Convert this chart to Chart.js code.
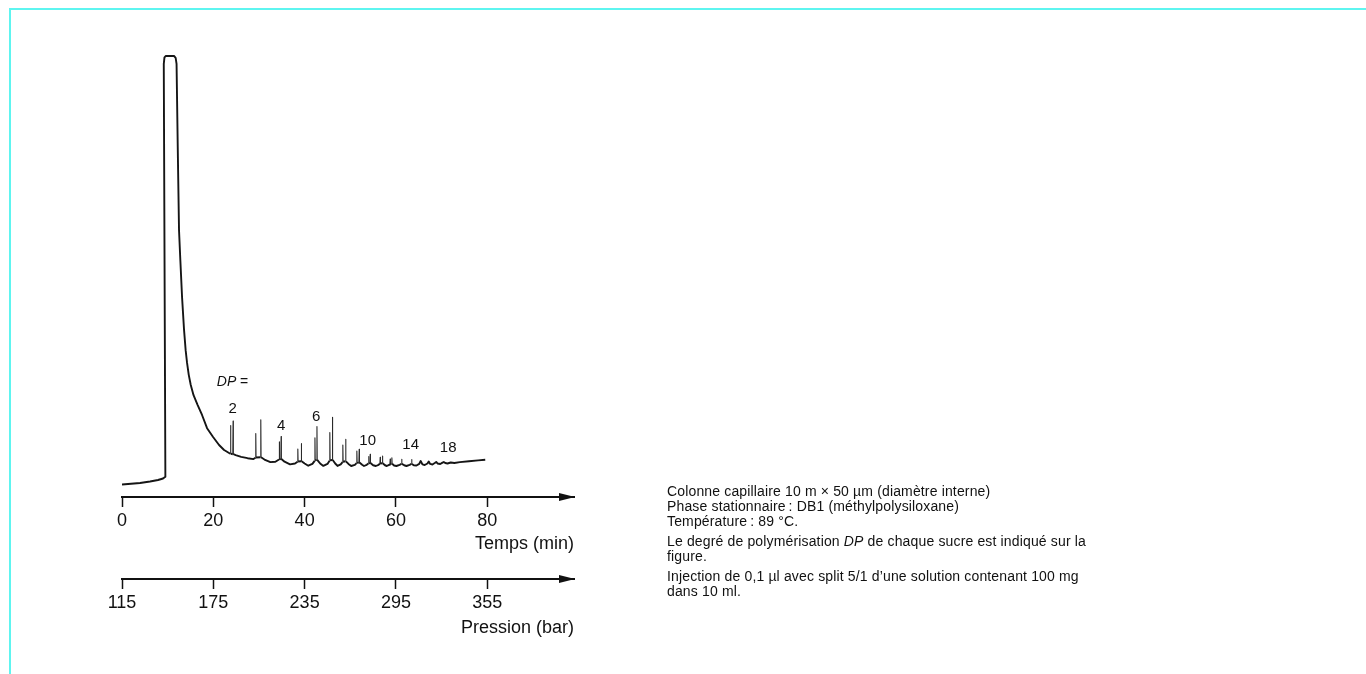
<!DOCTYPE html>
<html lang="fr">
<head>
<meta charset="utf-8">
<title>Chromatogramme</title>
<script src="https://cdn.jsdelivr.net/npm/chart.js@4.4.1/dist/chart.umd.min.js"></script>
<style>
  html, body { margin: 0; padding: 0; background: #fff; overflow: hidden; }
  #wrap { position: relative; width: 1366px; height: 674px; }
  #c { position: absolute; left: 0; top: 0; display: block; }
  #frame { position: absolute; left: 9px; top: 8px; width: 1357px; height: 666px;
           border-top: 2px solid #5ef5f0; border-left: 2px solid #5ef5f0; box-sizing: border-box; }
  .cap { position: absolute; left: 667px; font-family: "Liberation Sans", Arial, sans-serif;
         font-size: 14px; line-height: 15px; color: #111; white-space: nowrap; letter-spacing: 0.15px; }
  .cap i { font-style: italic; }
</style>
</head>
<body>
<div id="wrap">
  <canvas id="c" width="1366" height="674"></canvas>
  <div id="frame"></div>
  <div class="cap" style="top:484px">Colonne capillaire 10 m × 50 µm (diamètre interne)</div>
  <div class="cap" style="top:499px">Phase stationnaire&#8201;: DB1 (méthylpolysiloxane)</div>
  <div class="cap" style="top:514px">Température&#8201;: 89 °C.</div>
  <div class="cap" style="top:534px">Le degré de polymérisation <i>DP</i> de chaque sucre est indiqué sur la</div>
  <div class="cap" style="top:549px">figure.</div>
  <div class="cap" style="top:569px">Injection de 0,1 µl avec split 5/1 d’une solution contenant 100 mg</div>
  <div class="cap" style="top:584px">dans 10 ml.</div>
</div>
<script>
// ---- Data ----
const timeMin = [
  0, 3.95, 6.14, 7.89, 8.99, 9.5,
  9.15, 9.3, 9.6, 11.4, 11.75, 11.95, 12.2, 12.49, 12.78, 13.15, 13.59, 13.94, 14.25, 14.62, 15.06, 15.67,
  16.55, 17.53, 18.63, 19.95, 21.26, 22.36, 23.45,
  23.72, 23.78, 23.84, 24.27, 24.33, 24.39,
  24.9, 26.1, 27.5, 28.8,
  29.24, 29.30, 29.36, 30.34, 30.40, 30.46,
  31.2, 32.5, 33.6,
  34.39, 34.45, 34.51, 34.79, 34.85, 34.91,
  35.6, 36.8, 37.9,
  38.45, 38.51, 38.57, 39.22, 39.28, 39.34,
  40.0, 40.8, 41.7,
  42.20, 42.26, 42.32, 42.64, 42.70, 42.76,
  43.4, 44.1, 45.0,
  45.46, 45.52, 45.58, 46.03, 46.09, 46.15,
  46.7, 47.2, 47.9,
  48.31, 48.37, 48.43, 48.93, 48.99, 49.05,
  49.6, 50.2, 51.0,
  51.38, 51.44, 51.50, 51.89, 51.95, 52.01,
  52.6, 53.0, 53.6,
  53.97, 54.03, 54.09, 54.30, 54.36, 54.42,
  55.0, 55.6, 56.2,
  56.49, 56.55, 56.61, 56.99, 57.05, 57.11,
  57.6, 58.0, 58.5,
  58.68, 58.74, 58.80, 59.05, 59.11, 59.17,
  59.6, 60.1, 60.8,
  61.20, 61.26, 61.32,
  61.8, 62.3, 63.0,
  63.40, 63.45, 63.50,
  63.9, 64.5, 65.1, 65.42, 65.8, 66.3, 66.9, 67.18, 67.5, 68.0, 68.5, 68.82, 69.1, 69.7,
  70.2, 70.47, 70.8, 71.3, 72.0, 72.8, 74.0, 76.0, 78.0, 79.56
];
const signal = [
  2.83, 3.17, 3.51, 3.85, 4.2, 4.6,
  98.2, 99.7, 100, 100, 99.6, 98.2, 80, 60.5, 53.7, 45.4, 37.9, 33.3, 30.4, 27.7, 25.4, 23.1,
  20.9, 18.6, 15.6, 13.6, 11.8, 10.66, 9.98,
  9.8, 16.2, 9.8, 9.7, 17.2, 9.7,
  9.5, 9.1, 8.8, 8.6,
  8.9, 14.4, 8.95, 9.0, 17.5, 9.0,
  8.5, 7.9, 8.0,
  8.5, 12.5, 8.55, 8.6, 13.7, 8.6,
  8.0, 7.4, 7.6,
  8.0, 10.9, 8.05, 8.1, 12.1, 8.1,
  7.6, 7.1, 7.5,
  8.2, 13.4, 8.3, 8.4, 16.0, 8.4,
  7.6, 7.05, 7.5,
  8.2, 14.6, 8.3, 8.4, 18.1, 8.4,
  7.6, 7.05, 7.4,
  7.9, 11.8, 8.0, 8.1, 13.1, 8.1,
  7.5, 7.03, 7.3,
  7.7, 10.4, 7.75, 7.8, 10.8, 7.8,
  7.3, 7.03, 7.3,
  7.6, 9.2, 7.65, 7.7, 9.7, 7.7,
  7.2, 7.03, 7.3,
  7.6, 9.0, 7.6, 7.65, 9.3, 7.65,
  7.2, 7.03, 7.3,
  7.5, 8.6, 7.5, 7.55, 8.9, 7.55,
  7.15, 7.03, 7.3,
  7.5, 8.55, 7.5,
  7.2, 7.03, 7.3,
  7.5, 8.5, 7.5,
  7.2, 7.14, 7.5, 8.16, 7.4, 7.26, 7.6, 8.05, 7.5, 7.37, 7.7, 7.94, 7.6, 7.48,
  7.8, 7.94, 7.7, 7.6, 7.82, 7.71, 7.9, 8.1, 8.3, 8.45
];
const timeTicks = [0, 20, 40, 60, 80];
const pressureTicks = [115, 175, 235, 295, 355];
const timeMax = 99;
const pressureAtZero = 115;
const pressurePerMin = 3;
const dpLabelText = ['2', '4', '6', '10', '14', '18'];
const dpLabelTime = [24.22, 34.85, 42.52, 53.81, 63.23, 71.45];
const dpLabelSignal = [20.07, 16.1, 18.14, 12.81, 11.79, 11.11];
const dpTitleTime = 20.76;
const dpTitleSignal = 26.08;

// ---- Chart ----
const FONT = "'Liberation Sans', Arial, sans-serif";
const INK = '#111';
Chart.defaults.color = INK;
Chart.defaults.font.family = FONT;

const points = timeMin.map((t, i) => ({ x: t, y: signal[i] }));
const isSpike = c => Math.abs(c.p1.parsed.x - c.p0.parsed.x) < 0.1;

const arrowPlugin = {
  id: 'axisArrows',
  afterDraw(chart) {
    const ctx = chart.ctx;
    ['x', 'x2'].forEach(id => {
      const s = chart.scales[id];
      const x = s.right, y = s.top;
      ctx.save();
      ctx.fillStyle = INK;
      ctx.beginPath();
      ctx.moveTo(x + 1, y);
      ctx.lineTo(x - 15, y - 4);
      ctx.lineTo(x - 15, y + 4);
      ctx.closePath();
      ctx.fill();
      ctx.restore();
    });
  }
};

const dpLabelPlugin = {
  id: 'dpLabels',
  afterDatasetsDraw(chart) {
    const ctx = chart.ctx, xs = chart.scales.x, ys = chart.scales.y;
    ctx.save();
    ctx.fillStyle = INK;
    ctx.textBaseline = 'middle';
    let px = xs.getPixelForValue(dpTitleTime), py = ys.getPixelForValue(dpTitleSignal);
    ctx.textAlign = 'left';
    ctx.font = 'italic 14px ' + FONT;
    ctx.fillText('DP', px, py);
    const w = ctx.measureText('DP').width;
    ctx.font = '14px ' + FONT;
    ctx.fillText(' =', px + w, py);
    ctx.textAlign = 'center';
    ctx.font = '15px ' + FONT;
    dpLabelText.forEach((txt, i) => {
      ctx.fillText(txt, xs.getPixelForValue(dpLabelTime[i]), ys.getPixelForValue(dpLabelSignal[i]));
    });
    ctx.restore();
  }
};

function axisOpts(min, max, ticks, title, titlePad, weight) {
  return {
    type: 'linear', position: 'bottom', min, max, weight,
    afterBuildTicks: s => { s.ticks = ticks.map(v => ({ value: v })); },
    ticks: { autoSkip: false, maxRotation: 0, padding: 5, color: INK,
             font: { family: FONT, size: 18, lineHeight: 1 }, callback: v => String(v) },
    grid: { display: true, drawOnChartArea: false, drawTicks: true, tickLength: 10,
            tickWidth: 1.5, tickColor: INK },
    border: { display: true, color: INK, width: 2 },
    title: { display: true, text: title, align: 'end', color: INK,
             font: { family: FONT, size: 18, lineHeight: 1 }, padding: titlePad }
  };
}

new Chart(document.getElementById('c'), {
  type: 'line',
  data: {
    datasets: [{
      data: points,
      borderColor: '#151515',
      borderWidth: 1.9,
      borderJoinStyle: 'round',
      pointRadius: 0,
      tension: 0,
      fill: false,
      segment: {
        borderWidth: c => isSpike(c) ? 1.1 : 1.9,
        borderColor: c => isSpike(c) ? '#2a2a2a' : '#151515'
      }
    }]
  },
  options: {
    responsive: false,
    devicePixelRatio: 1,
    animation: false,
    events: [],
    layout: { padding: { left: 122, right: 792, top: 51.6, bottom: 37 } },
    plugins: { legend: { display: false }, tooltip: { enabled: false }, title: { display: false } },
    scales: {
      x: axisOpts(0, timeMax, timeTicks, 'Temps (min)', { top: 0, bottom: 26 }, 0),
      x2: axisOpts(pressureAtZero, pressureAtZero + pressurePerMin * timeMax, pressureTicks,
                   'Pression (bar)', { top: 2, bottom: 0 }, 1),
      y: { display: false, min: 0, max: 101 }
    }
  },
  plugins: [arrowPlugin, dpLabelPlugin]
});
</script>
</body>
</html>
